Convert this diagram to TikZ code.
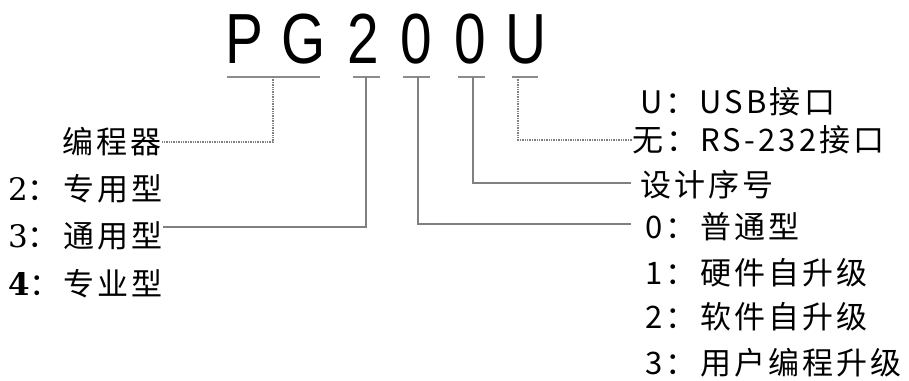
\documentclass[tikz,border=0pt]{standalone}
\usepackage{fontspec}
\setmainfont{DejaVu Serif}
\setsansfont{Liberation Sans}
\newfontfamily\cjk[LetterSpace=10]{Noto Sans CJK SC}
\usetikzlibrary{positioning}
\definecolor{cline}{HTML}{808080}
\definecolor{cbar}{HTML}{8C8C8C}
\newcommand{\numl}[1]{{\fontsize{31}{31}\selectfont\rmfamily #1}}
\tikzset{
  codech/.style={inner sep=0pt, anchor=base, font=\fontsize{71}{71}\selectfont\sffamily},
  ubar/.style={draw=cbar, line width=2.4pt},
  lead/.style={draw=cline, line width=1.4pt},
  leadd/.style={lead, densely dotted},
  lbl/.style={inner sep=0pt, anchor=west, font=\fontsize{31}{31}\selectfont\cjk},
}

\begin{document}
\begin{tikzpicture}[x=1pt, y=-1pt]
  \useasboundingbox (0,0) rectangle (909,380);
  \foreach \nm/\ch/\cx in {cP/P/244, cG/G/304, c2/2/363, c0a/0/416, c0b/0/470, cU/U/526}
    \node[codech] (\nm) at (\cx,63) {\scalebox{0.8}[1]{\ch}};
  \draw[ubar] (227,77) -- (320,77); \draw[ubar] (353,77) -- (380,77);
  \draw[ubar] (403,77) -- (430,77); \draw[ubar] (458,77) -- (485,77);
  \draw[ubar] (512,77) -- (538,77);
  \coordinate (uPG) at (273,77); \coordinate (u2) at (366,77);
  \coordinate (u0a) at (418,77); \coordinate (u0b) at (473,77);
  \coordinate (uU) at (518,77);
  \node[lbl] (prog) at (62,142) {编程器};
  \node[lbl] (t2) at (8,189) {\makebox[55pt][l]{\numl{2}：}专用型};
  \node[lbl] (t3) at (8,236) {\makebox[55pt][l]{\numl{3}：}通用型};
  \node[lbl] (t4) at (8,284) {\makebox[55pt][l]{\numl{\bfseries 4}：}专业型};
  \node[lbl] (usb) at (640,102) {U：USB接口};
  \node[lbl] (rs) at (632,140) {无：RS-232接口};
  \node[lbl] (seq) at (640,185) {设计序号};
  \node[lbl] (v0) at (645,227) {\makebox[55pt][l]{0：}普通型};
  \node[lbl] (v1) at (645,273) {\makebox[55pt][l]{1：}硬件自升级};
  \node[lbl] (v2) at (645,317) {\makebox[55pt][l]{2：}软件自升级};
  \node[lbl] (v3) at (645,363) {\makebox[55pt][l]{3：}用户编程升级};
  \draw[leadd] (uPG) |- (prog.east);
  \draw[lead] (u2) |- ([yshift=9pt]t3.east);
  \draw[lead] (u0a) |- ([xshift=-14pt, yshift=3pt]v0.west);
  \draw[lead] (u0b) |- ([xshift=-9pt, yshift=2pt]seq.west);
  \draw[leadd] (uU) |- (rs.west);
\end{tikzpicture}
\end{document}
